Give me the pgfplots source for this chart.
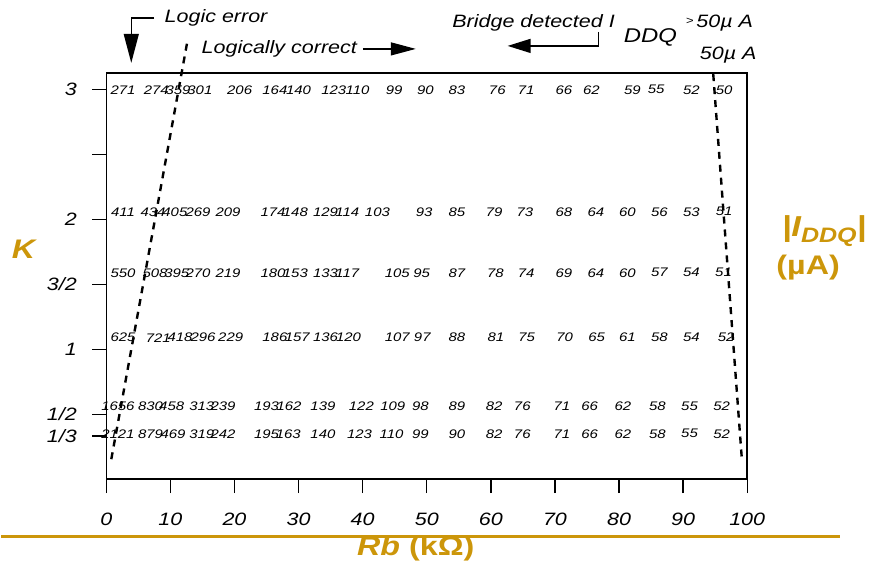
\documentclass[border=0pt]{standalone}
\usepackage{fontspec}
\setmainfont{Liberation Sans}
\newfontfamily\stretchfont[FakeStretch=1.2]{Liberation Sans}
\usepackage{pgfplots}
\pgfplotsset{compat=1.18}
\usetikzlibrary{arrows.meta}
\definecolor{gold}{RGB}{204,150,10}
\newcommand\numf{\stretchfont\itshape\fontsize{12.5}{12.5}\selectfont}
\newcommand\tickf{\stretchfont\itshape\fontsize{18}{18}\selectfont}
\newcommand\labf{\stretchfont\bfseries\fontsize{27}{27}\selectfont}
\begin{document}
\begin{tikzpicture}
\path (-105bp,-88bp) rectangle (767bp,480bp);
\begin{axis}[at={(0,0)}, anchor=south west, scale only axis,
  width=642bp, height=407bp,
  xmin=0, xmax=100, ymin=0, ymax=3.13, clip=false,
  axis line style={line width=1.6bp},
  tick pos=left, tick align=outside,
  major tick length=14bp,
  tick style={line width=1.3bp, black},
  xtick={0,10,20,30,40,50,60,70,80,90,100},
  xticklabels={0,10,20,30,40,50,60,70,80,90,100},
  ytick={0.33333,0.5,1,1.5,2,2.5,3},
  yticklabels={1/3,1/2,1,3/2,2,,3},
  ticklabel style={font=\tickf},
  xticklabel style={yshift=-16bp},
  yticklabel style={xshift=-12bp},
  nodes near coords style={anchor=center, font=\numf, black, inner sep=0pt},
]
% row K=3
\addplot[only marks, mark=none, nodes near coords, point meta=explicit symbolic] table[meta=l] {
x y l
2.6 3.0 271
7.8 3.0 274
11.2 3.0 359
14.6 3.0 301
20.8 3.0 206
26.3 3.0 164
30.0 3.0 140
35.5 3.0 123
39.2 3.0 110
44.9 3.0 99
49.8 3.0 90
54.7 3.0 83
61.0 3.0 76
65.5 3.0 71
71.4 3.0 66
75.7 3.0 62
82.1 3.0 59
85.8 3.0 55
91.3 3.0 52
96.4 3.0 50
};
% row K=2
\addplot[only marks, mark=none, nodes near coords, point meta=explicit symbolic] table[meta=l] {
x y l
2.6 2.06 411
7.3 2.06 434
10.7 2.06 405
14.3 2.06 269
19.0 2.06 209
26.0 2.06 174
29.5 2.06 148
34.2 2.06 129
37.6 2.06 114
42.3 2.06 103
49.6 2.06 93
54.7 2.06 85
60.5 2.06 79
65.3 2.06 73
71.4 2.06 68
76.4 2.06 64
81.3 2.06 60
86.3 2.06 56
91.3 2.06 53
96.4 2.06 51
};
% row K=3/2
\addplot[only marks, mark=none, nodes near coords, point meta=explicit symbolic] table[meta=l] {
x y l
2.6 1.59 550
7.6 1.59 508
11.0 1.59 395
14.3 1.59 270
19.0 1.59 219
26.0 1.59 180
29.5 1.59 153
34.2 1.59 133
37.6 1.59 117
45.4 1.59 105
49.2 1.59 95
54.7 1.59 87
60.7 1.59 78
65.5 1.59 74
71.4 1.59 69
76.4 1.59 64
81.3 1.59 60
86.3 1.59 57
91.3 1.59 54
96.3 1.59 51
};
% row K=1
\addplot[only marks, mark=none, nodes near coords, point meta=explicit symbolic] table[meta=l] {
x y l
2.6 1.09 625
8.1 1.09 721
11.5 1.09 418
15.1 1.09 296
19.4 1.09 229
26.3 1.09 186
29.8 1.09 157
34.2 1.09 136
37.8 1.09 120
45.4 1.09 107
49.3 1.09 97
54.7 1.09 88
60.8 1.09 81
65.6 1.09 75
71.5 1.09 70
76.5 1.09 65
81.3 1.09 61
86.3 1.09 58
91.3 1.09 54
96.7 1.09 52
};
% row K=1/2
\addplot[only marks, mark=none, nodes near coords, point meta=explicit symbolic] table[meta=l] {
x y l
1.8 0.56 1656
6.9 0.56 830
10.2 0.56 458
14.9 0.56 313
18.2 0.56 239
25.0 0.56 193
28.5 0.56 162
33.8 0.56 139
39.8 0.56 122
44.7 0.56 109
49.0 0.56 98
54.7 0.56 89
60.5 0.56 82
64.9 0.56 76
71.1 0.56 71
75.4 0.56 66
80.6 0.56 62
86.0 0.56 58
91.0 0.56 55
96.0 0.56 52
};
% row K=1/3
\addplot[only marks, mark=none, nodes near coords, point meta=explicit symbolic] table[meta=l] {
x y l
1.8 0.35 2121
6.9 0.35 879
10.4 0.35 469
14.9 0.35 319
18.2 0.35 242
25.0 0.35 195
28.4 0.35 163
33.8 0.35 140
39.5 0.35 123
44.5 0.35 110
49.0 0.35 99
54.7 0.35 90
60.5 0.35 82
64.9 0.35 76
71.1 0.35 71
75.4 0.35 66
80.6 0.35 62
86.0 0.35 58
91.0 0.35 55
96.0 0.35 52
};
% boundary lines
\addplot[black, line width=2.4bp, dash pattern=on 7bp off 6bp] coordinates {(0.78,0.154) (12.6,3.36)};
\addplot[black, line width=2.4bp, dash pattern=on 7bp off 6bp] coordinates {(94.7,3.12) (99.2,0.13)};
\end{axis}
% annotations
\node[font=\tickf, anchor=west] at (55bp,462bp) {Logic error};
\draw[line width=1.3bp] (48bp,462bp) -- (25bp,462bp);
\draw[line width=1.3bp, -{Triangle[length=29bp,width=15bp]}] (25bp,462bp) -- (25bp,417bp);
\node[font=\tickf, anchor=west] at (92bp,431bp) {Logically correct};
\draw[line width=1.3bp, -{Triangle[length=25bp,width=13bp]}] (257bp,431bp) -- (310bp,431bp);
\node[font=\tickf] at (428bp,457bp) {Bridge detected I};
\node[font=\tickf] at (545bp,442bp) {\fontsize{20}{20}\selectfont DDQ};
\node[font=\tickf, anchor=west] at (577bp,457bp) {\raisebox{3bp}{\fontsize{11}{11}\selectfont >}\,50µ A};
\node[font=\tickf] at (623bp,425bp) {50µ A};
\draw[line width=1.3bp, -{Triangle[length=23bp,width=14bp]}] (493bp,448bp) -- (493bp,434bp) -- (402bp,434bp);
% colored labels
\node[gold, font=\labf\itshape] at (-83bp,230bp) {K};
\node[gold, font=\labf\itshape] at (719bp,249bp) {\fontsize{29}{29}\selectfont |I\raisebox{-6bp}{\fontsize{21}{21}\selectfont DDQ}|};
\node[gold, font=\labf] at (703bp,212bp) {(µA)};
\draw[gold, line width=3bp] (-105bp,-57bp) -- (735bp,-57bp);
\node[gold, font=\labf] at (310bp,-70bp) {\textit{Rb} (kΩ)};
\end{tikzpicture}
\end{document}
